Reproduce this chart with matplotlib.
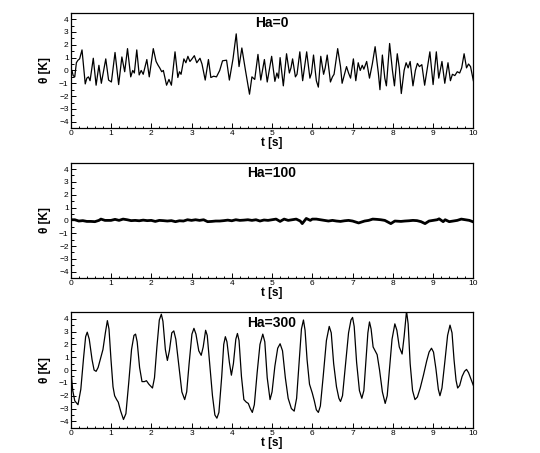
import matplotlib
matplotlib.use("Agg")
import matplotlib.pyplot as plt
from matplotlib.ticker import MultipleLocator

plt.rcParams['font.family'] = ['Liberation Sans', 'DejaVu Sans']

# temperature fluctuation theta [K] vs time t [s]
t_ha0 = [0.00, 0.03, 0.06, 0.10, 0.14, 0.18, 0.22, 0.28, 0.36, 0.40, 0.44, 0.48, 0.56, 0.63, 0.70,
         0.76, 0.87, 0.94, 1.01, 1.10, 1.19, 1.27, 1.34, 1.41, 1.49, 1.54, 1.58, 1.64, 1.70, 1.75,
         1.80, 1.89, 1.95, 2.05, 2.12, 2.17, 2.21, 2.26, 2.30, 2.38, 2.44, 2.50, 2.59, 2.66, 2.70,
         2.74, 2.81, 2.86, 2.91, 2.96, 3.00, 3.07, 3.13, 3.21, 3.26, 3.34, 3.42, 3.48, 3.55, 3.62,
         3.70, 3.77, 3.87, 3.94, 4.03, 4.11, 4.18, 4.25, 4.34, 4.44, 4.50, 4.57, 4.65, 4.72, 4.81,
         4.88, 4.99, 5.07, 5.12, 5.16, 5.20, 5.28, 5.36, 5.43, 5.47, 5.51, 5.58, 5.62, 5.69, 5.76,
         5.86, 5.94, 5.98, 6.03, 6.10, 6.15, 6.21, 6.28, 6.32, 6.37, 6.45, 6.50, 6.54, 6.63, 6.70,
         6.74, 6.80, 6.85, 6.90, 6.95, 7.02, 7.08, 7.14, 7.19, 7.24, 7.28, 7.35, 7.42, 7.49, 7.56,
         7.64, 7.68, 7.74, 7.80, 7.84, 7.92, 7.99, 8.04, 8.11, 8.16, 8.21, 8.28, 8.33, 8.38, 8.43,
         8.50, 8.56, 8.61, 8.66, 8.72, 8.79, 8.92, 9.00, 9.08, 9.14, 9.22, 9.29, 9.37, 9.43, 9.48,
         9.54, 9.60, 9.66, 9.71, 9.77, 9.83, 9.88, 9.93, 10.00]
th_ha0 = [0.1, 0.0, -0.4, -0.5, 0.6, 0.8, 0.9, 1.6, -1.05, -0.6, -0.5, -0.8, 0.95, -1.15, 0.4,
          -1.0, 0.9, -0.75, -0.9, 1.4, -1.1, 1.05, -0.1, 1.7, -0.5, 0.0, -0.2, 1.6, -0.35, 0.0,
          -0.3, 0.85, -0.5, 1.7, 0.7, 0.4, 0.2, -0.1, 0.0, -1.15, -0.7, -1.15, 1.45, -0.55, -0.1,
          -0.3, 0.9, 0.6, 1.1, 0.7, 0.85, 1.15, 0.6, 0.95, 0.5, -0.75, 0.85, -0.55, -0.45, -0.5,
          0.0, 0.75, 0.8, -0.75, 0.9, 2.85, 0.3, 1.75, 0.0, -1.85, -0.5, -0.7, 1.25, -0.75, 0.85,
          -0.9, 1.1, -0.85, -0.2, -0.6, 1.0, -1.2, 1.3, -0.2, 0.2, 0.9, -0.5, -0.3, 1.45, -0.8,
          1.45, -0.6, -0.2, 1.2, -0.8, -1.3, 1.1, -0.3, 0.2, 1.2, -0.9, -0.5, -0.3, 1.7, 0.3,
          -1.0, -0.3, 0.3, -0.2, -0.6, 0.9, -0.8, 0.6, 0.0, 0.4, 0.1, 0.7, -0.6, 0.5, 1.85,
          -0.2, -1.5, 1.2, -0.6, -1.2, 2.1, 0.0, -1.2, 1.3, 0.2, -1.8, 0.0, 0.6, 0.2, 0.7,
          -1.2, 0.0, 0.55, 0.3, 0.45, -1.15, 1.45, -1.1, 1.45, -0.6, 0.7, -1.0, 0.6, -0.8, -0.3,
          -0.4, -0.1, -0.2, 0.2, 1.3, 0.2, 0.5, 0.3, -0.8]

t_ha100 = [0.0, 0.1, 0.2, 0.3, 0.4, 0.5, 0.6, 0.7, 0.75, 0.85, 1.0, 1.1, 1.2, 1.3, 1.4, 1.5, 1.6,
           1.7, 1.8, 1.9, 2.0, 2.1, 2.2, 2.3, 2.4, 2.5, 2.6, 2.7, 2.8, 2.9, 3.0, 3.1, 3.2, 3.3,
           3.4, 3.5, 3.6, 3.7, 3.8, 3.9, 4.0, 4.1, 4.2, 4.3, 4.4, 4.5, 4.6, 4.7, 4.8, 4.9, 5.0,
           5.1, 5.2, 5.3, 5.4, 5.5, 5.6, 5.7, 5.75, 5.85, 5.95, 6.0, 6.1, 6.2, 6.3, 6.4, 6.5, 6.6,
           6.7, 6.8, 6.9, 7.0, 7.15, 7.3, 7.4, 7.5, 7.6, 7.7, 7.8, 7.95, 8.05, 8.2, 8.3, 8.4, 8.5,
           8.6, 8.7, 8.8, 8.9, 9.0, 9.1, 9.15, 9.25, 9.3, 9.4, 9.5, 9.6, 9.7, 9.8, 9.9, 10.0]
th_ha100 = [0.05, 0.05, -0.05, -0.02, -0.08, -0.08, -0.1, 0.0, 0.1, 0.0, 0.0, 0.08, 0.0, 0.1, 0.05,
            -0.02, 0.0, -0.03, 0.02, -0.02, 0.0, -0.08, 0.0, -0.02, -0.05, -0.02, -0.1, -0.03,
            -0.05, 0.05, 0.0, 0.05, 0.0, 0.05, -0.1, -0.08, -0.05, -0.05, -0.02, 0.02, -0.03, 0.05,
            0.0, 0.02, 0.05, 0.0, 0.05, -0.05, 0.03, 0.0, 0.05, 0.1, -0.08, 0.1, 0.0, 0.05, 0.1,
            -0.05, -0.25, 0.15, 0.0, 0.1, 0.1, 0.05, 0.0, -0.05, 0.0, -0.05, -0.08, -0.03, 0.0,
            -0.05, -0.2, -0.05, 0.0, 0.1, 0.08, 0.05, 0.0, -0.25, -0.05, -0.08, -0.05, -0.03, 0.0,
            -0.02, -0.1, -0.25, -0.05, 0.0, 0.05, 0.12, -0.1, 0.05, -0.1, -0.05, 0.0, 0.1, 0.05,
            0.0, -0.12]

t_ha300 = [0.00, 0.05, 0.10, 0.18, 0.25, 0.32, 0.37, 0.41, 0.46, 0.53, 0.58, 0.63, 0.68, 0.75,
           0.80, 0.86, 0.91, 0.95, 1.00, 1.05, 1.09, 1.14, 1.18, 1.24, 1.31, 1.37, 1.44, 1.51,
           1.57, 1.61, 1.65, 1.71, 1.77, 1.83, 1.88, 1.94, 2.03, 2.08, 2.14, 2.20, 2.25, 2.29,
           2.35, 2.40, 2.45, 2.51, 2.56, 2.61, 2.68, 2.76, 2.83, 2.88, 2.94, 3.01, 3.06, 3.11,
           3.18, 3.24, 3.29, 3.35, 3.39, 3.45, 3.52, 3.58, 3.63, 3.68, 3.75, 3.80, 3.84, 3.88,
           3.94, 3.99, 4.04, 4.10, 4.14, 4.18, 4.24, 4.30, 4.36, 4.41, 4.46, 4.51, 4.56, 4.63,
           4.70, 4.77, 4.82, 4.88, 4.95, 5.00, 5.07, 5.14, 5.20, 5.26, 5.33, 5.40, 5.48, 5.55,
           5.61, 5.67, 5.73, 5.78, 5.82, 5.87, 5.93, 6.00, 6.05, 6.10, 6.15, 6.20, 6.27, 6.35,
           6.42, 6.47, 6.53, 6.60, 6.66, 6.70, 6.75, 6.82, 6.90, 6.96, 7.00, 7.04, 7.10, 7.17,
           7.23, 7.28, 7.33, 7.38, 7.42, 7.46, 7.51, 7.56, 7.61, 7.67, 7.74, 7.81, 7.86, 7.92,
           7.98, 8.05, 8.10, 8.16, 8.23, 8.28, 8.34, 8.38, 8.43, 8.49, 8.55, 8.61, 8.68, 8.76,
           8.84, 8.90, 8.96, 9.01, 9.07, 9.13, 9.17, 9.22, 9.29, 9.36, 9.42, 9.47, 9.52, 9.57,
           9.61, 9.66, 9.72, 9.78, 9.83, 9.88, 9.94, 10.00]
th_ha300 = [0.1, -1.6, -2.4, -2.7, -1.5, 1.0, 2.6, 2.95, 2.4, 0.8, 0.0, -0.1, 0.2, 1.0,
            1.6, 2.9, 3.85, 3.2, 0.8, -1.3, -2.0, -2.3, -2.5, -3.2, -3.85, -3.4, -1.0, 1.6,
            2.7, 2.8, 2.2, 0.2, -0.9, -0.9, -0.83, -1.1, -1.4, -0.6, 1.8, 3.9, 4.35, 3.8,
            1.6, 0.75, 1.5, 2.9, 3.05, 2.4, 0.5, -1.7, -2.3, -1.7, 0.5, 2.8, 3.25, 2.8,
            1.5, 1.15, 1.8, 3.1, 2.7, 0.5, -2.0, -3.5, -3.75, -3.3, -0.5, 2.0, 2.6, 2.2,
            0.6, -0.4, 0.5, 2.4, 2.85, 2.3, -0.5, -2.3, -2.5, -2.6, -3.0, -3.3, -2.7, -0.2,
            2.0, 2.8, 2.2, -0.6, -2.3, -1.7, 0.3, 1.7, 2.05, 1.5, -0.6, -2.2, -3.0, -3.2,
            -2.2, 0.5, 3.2, 3.9, 3.1, 0.8, -1.1, -1.8, -2.4, -3.1, -3.3, -2.8, -0.5, 2.3,
            3.4, 2.9, 0.5, -1.3, -2.2, -2.45, -2.0, 0.3, 2.9, 3.9, 4.1, 3.4, 0.6, -1.6,
            -2.2, -1.6, 0.6, 2.9, 3.75, 3.2, 1.8, 1.5, 1.2, 0.0, -1.7, -2.6, -2.0, 0.2,
            2.4, 3.6, 3.1, 1.8, 1.25, 2.6, 4.6, 3.6, 0.5, -1.6, -2.3, -2.1, -1.4, -0.4,
            0.7, 1.4, 1.7, 1.4, 0.1, -1.5, -2.0, -1.4, 0.6, 2.7, 3.5, 2.9, 0.8, -0.8,
            -1.4, -1.2, -0.5, -0.1, 0.05, -0.2, -0.7, -1.2]

series = [(t_ha0, th_ha0, "Ha=0", 0.9),
          (t_ha100, th_ha100, "Ha=100", 2.0),
          (t_ha300, th_ha300, "Ha=300", 0.9)]

fig = plt.figure(figsize=(5.4, 4.53), dpi=100)
bottoms = [0.717, 0.386, 0.0556]

for (t, th, name, lw), b in zip(series, bottoms):
    ax = fig.add_axes([0.131, b, 0.7456, 0.255])
    ax.plot(t, th, color="black", lw=lw, solid_joinstyle="round")
    ax.set_xlim(0, 10)
    ax.set_ylim(-4.5, 4.5)
    ax.xaxis.set_major_locator(MultipleLocator(1))
    ax.xaxis.set_minor_locator(MultipleLocator(0.2))
    ax.yaxis.set_major_locator(MultipleLocator(1))
    ax.yaxis.set_minor_locator(MultipleLocator(0.5))
    ax.tick_params(which="both", direction="in", top=False, right=False,
                   labelsize=6, pad=1.5, width=0.7)
    ax.tick_params(which="major", length=3.5)
    ax.tick_params(which="minor", length=1.8)
    for sp in ax.spines.values():
        sp.set_linewidth(0.9)
    ax.set_xlabel("t [s]", fontsize=8.5, fontweight="bold", labelpad=0)
    ax.set_ylabel("θ [K]", fontsize=8.5, fontweight="bold", labelpad=6)
    ax.text(0.5, 0.91, name, transform=ax.transAxes, ha="center", va="center",
            fontsize=10, fontweight="bold")

fig.savefig("out.png", dpi=100)
